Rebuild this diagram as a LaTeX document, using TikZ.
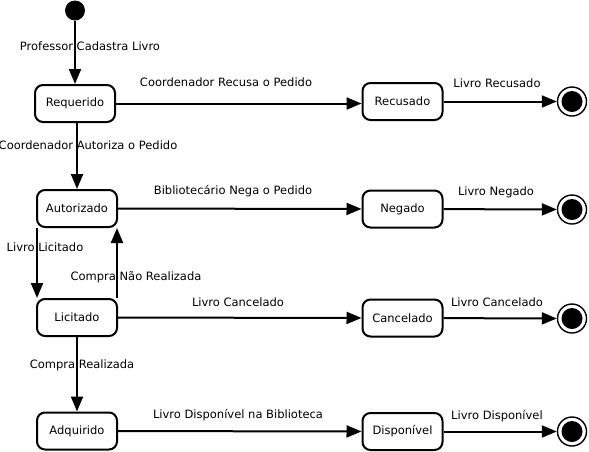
\documentclass[tikz,border=0pt]{standalone}
\usepackage{fontspec}
\setmainfont{DejaVu Sans}
\usetikzlibrary{arrows.meta}

\tikzset{
    estado/.style={draw, line width=2pt, rounded corners=8pt, minimum width=80pt,
        minimum height=37pt, inner sep=0pt, font=\fontsize{11.5}{13}\selectfont},
    inicio/.style={circle, fill=black, minimum size=20pt, inner sep=0pt},
    fim/.style={circle, draw, line width=1.4pt, minimum size=29pt, inner sep=0pt,
        path picture={\fill (path picture bounding box.center) circle (10.5pt);}},
    trans/.style={line width=2pt, -{Triangle[length=15pt, width=12pt]}},
    rotulo/.style={inner sep=0pt, font=\fontsize{11.5}{13}\selectfont}
}

\begin{document}
\begin{tikzpicture}[x=1pt, y=-1pt]

    \useasboundingbox (0, 0) rectangle (589, 451);

    % estados
    \node[inicio] (inicio) at (75, 10.5) {};
    \node[estado] (requerido) at (75, 103.5) {Requerido};
    \node[estado] (autorizado) at (77, 208.5) {Autorizado};
    \node[estado] (licitado) at (77, 317.5) {Licitado};
    \node[estado] (adquirido) at (77, 431) {Adquirido};

    \node[estado] (recusado) at (402.5, 101.5) {Recusado};
    \node[estado] (negado) at (402.5, 209) {Negado};
    \node[estado] (cancelado) at (402.5, 318) {Cancelado};
    \node[estado] (disponivel) at (402.5, 431.5) {Disponível};

    \node[fim] (fimRecusado) at (572, 101.5) {};
    \node[fim] (fimNegado) at (572, 209.5) {};
    \node[fim] (fimCancelado) at (572, 318.5) {};
    \node[fim] (fimDisponivel) at (572, 431.5) {};

    % transicoes
    \draw[trans] (inicio) -- (requerido);
    \draw[trans] (requerido.south -| autorizado) -- (autorizado);
    \draw[trans] ([xshift=1pt]autorizado.south west) -- ([xshift=1pt]licitado.north west);
    \draw[trans] ([xshift=-1pt]licitado.north east) -- ([xshift=-1pt]autorizado.south east);
    \draw[trans] (licitado) -- (adquirido);

    \draw[trans] (requerido.east) -- (requerido.east -| recusado.west);
    \draw[trans] (autorizado) -- (negado);
    \draw[trans] (licitado) -- (cancelado);
    \draw[trans] (adquirido) -- (disponivel);

    \draw[trans] (recusado) -- (fimRecusado);
    \draw[trans] (negado) -- (fimNegado);
    \draw[trans] (cancelado) -- (fimCancelado);
    \draw[trans] (disponivel) -- (fimDisponivel);

    % rotulos
    \node[rotulo] (rCadastra) at (90, 46) {Professor Cadastra Livro};
    \node[rotulo] (rRecusa) at (226, 82) {Coordenador Recusa o Pedido};
    \node[rotulo] (rAutoriza) at (88, 145) {Coordenador Autoriza o Pedido};
    \node[rotulo] (rNega) at (233, 191) {Bibliotecário Nega o Pedido};
    \node[rotulo] (rLicitado) at (45, 247) {Livro Licitado};
    \node[rotulo] (rNaoRealizada) at (136, 277) {Compra Não Realizada};
    \node[rotulo] (rCancelado) at (238, 302) {Livro Cancelado};
    \node[rotulo] (rRealizada) at (82, 365) {Compra Realizada};
    \node[rotulo] (rNaBiblioteca) at (238, 415) {Livro Disponível na Biblioteca};

    \node[rotulo] (rFimRecusado) at (497, 83) {Livro Recusado};
    \node[rotulo] (rFimNegado) at (496, 192) {Livro Negado};
    \node[rotulo] (rFimCancelado) at (497, 302) {Livro Cancelado};
    \node[rotulo] (rFimDisponivel) at (497, 416) {Livro Disponível};

\end{tikzpicture}
\end{document}
